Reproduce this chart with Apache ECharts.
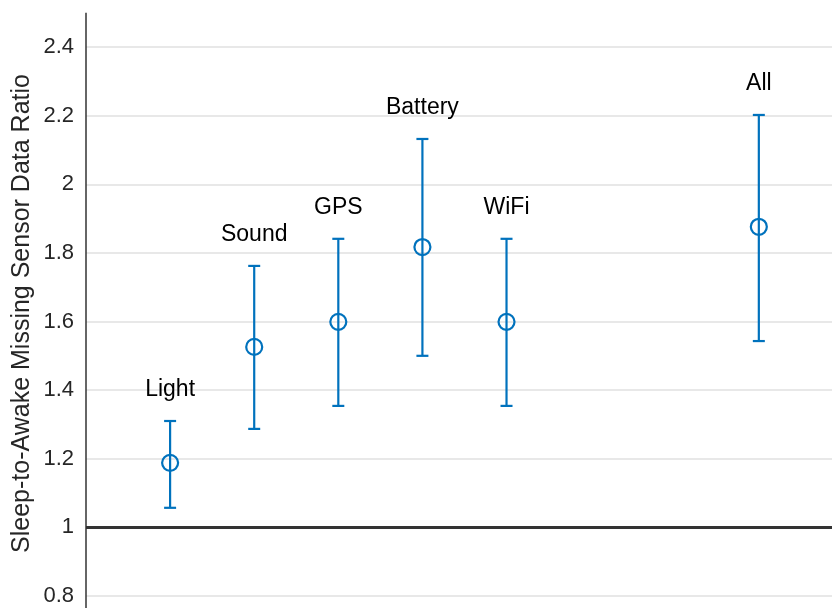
<!DOCTYPE html>
<html><head><meta charset="utf-8">
<script src="https://cdn.jsdelivr.net/npm/echarts@6/dist/echarts.min.js"></script>
<style>html,body{margin:0;padding:0;background:#fff}#c{width:832px;height:608px}</style>
</head><body><div id="c"></div>
<script>
const categories = ['Light','Sound','GPS','Battery','WiFi','All'];
const xPositions = [1,2,3,4,5,8];
const centers = [1.188,1.526,1.599,1.817,1.599,1.876];
const lows = [1.057,1.287,1.354,1.500,1.354,1.543];
const highs = [1.310,1.762,1.841,2.132,1.841,2.202];
const yTicks = {min:0.6, max:2.6, interval:0.2};
const spanTop = 2.5, spanBottom = 0.6;
const refLine = 1;
const yTitle = 'Sleep-to-Awake Missing Sensor Data Ratio';

const blue = '#0072BD';
const font = '"Liberation Sans", Arial, sans-serif';
const data = categories.map((c,i)=>[xPositions[i],centers[i],lows[i],highs[i],c]);

const chart = echarts.init(document.getElementById('c'));
chart.setOption({
  animation:false,
  backgroundColor:'#fff',
  grid:{left:86,right:0,top:-21.6,bottom:-56.6,containLabel:false,outerBoundsMode:'none'},
  xAxis:{type:'value',min:0,max:8.87,show:false,splitLine:{show:false}},
  yAxis:{type:'value',min:yTicks.min,max:yTicks.max,interval:yTicks.interval,
    axisLine:{show:false},axisTick:{show:false},
    axisLabel:{color:'#262626',fontSize:22,fontFamily:font,margin:12},
    splitLine:{show:true,lineStyle:{color:'#e0e0e0',width:1.5}}
  },
  graphic:[{type:'text',x:22,y:313.5,rotation:Math.PI/2,
    style:{text:yTitle,fill:'#262626',fontSize:25,fontFamily:font,align:'center',verticalAlign:'middle'}}],
  series:[
    {type:'line',data:[[0,spanBottom],[0,spanTop]],symbol:'none',silent:true,
     lineStyle:{color:'#333',width:1.5},z:5,
     markLine:{silent:true,symbol:'none',label:{show:false},
       lineStyle:{color:'#333',width:3,type:'solid'},data:[{yAxis:refLine}]}},
    {type:'custom',data:data,z:10,
     renderItem:function(params,api){
       const x=api.value(0);
       const pc=api.coord([x,api.value(1)]);
       const pl=api.coord([x,api.value(2)]);
       const ph=api.coord([x,api.value(3)]);
       const cw=6, st={stroke:blue,lineWidth:2.2,fill:null};
       return {type:'group',children:[
         {type:'line',shape:{x1:pc[0],y1:pl[1],x2:pc[0],y2:ph[1]},style:st},
         {type:'line',shape:{x1:pc[0]-cw,y1:pl[1],x2:pc[0]+cw,y2:pl[1]},style:st},
         {type:'line',shape:{x1:pc[0]-cw,y1:ph[1],x2:pc[0]+cw,y2:ph[1]},style:st},
         {type:'circle',shape:{cx:pc[0],cy:pc[1],r:8},style:{stroke:blue,lineWidth:2.2,fill:'rgba(0,0,0,0)'}},
         {type:'text',style:{text:categories[params.dataIndex],x:pc[0],y:ph[1]-31,
           align:'center',verticalAlign:'middle',fill:'#000',fontSize:23,fontFamily:font}}
       ]};
     }}
  ]
});
</script></body></html>
